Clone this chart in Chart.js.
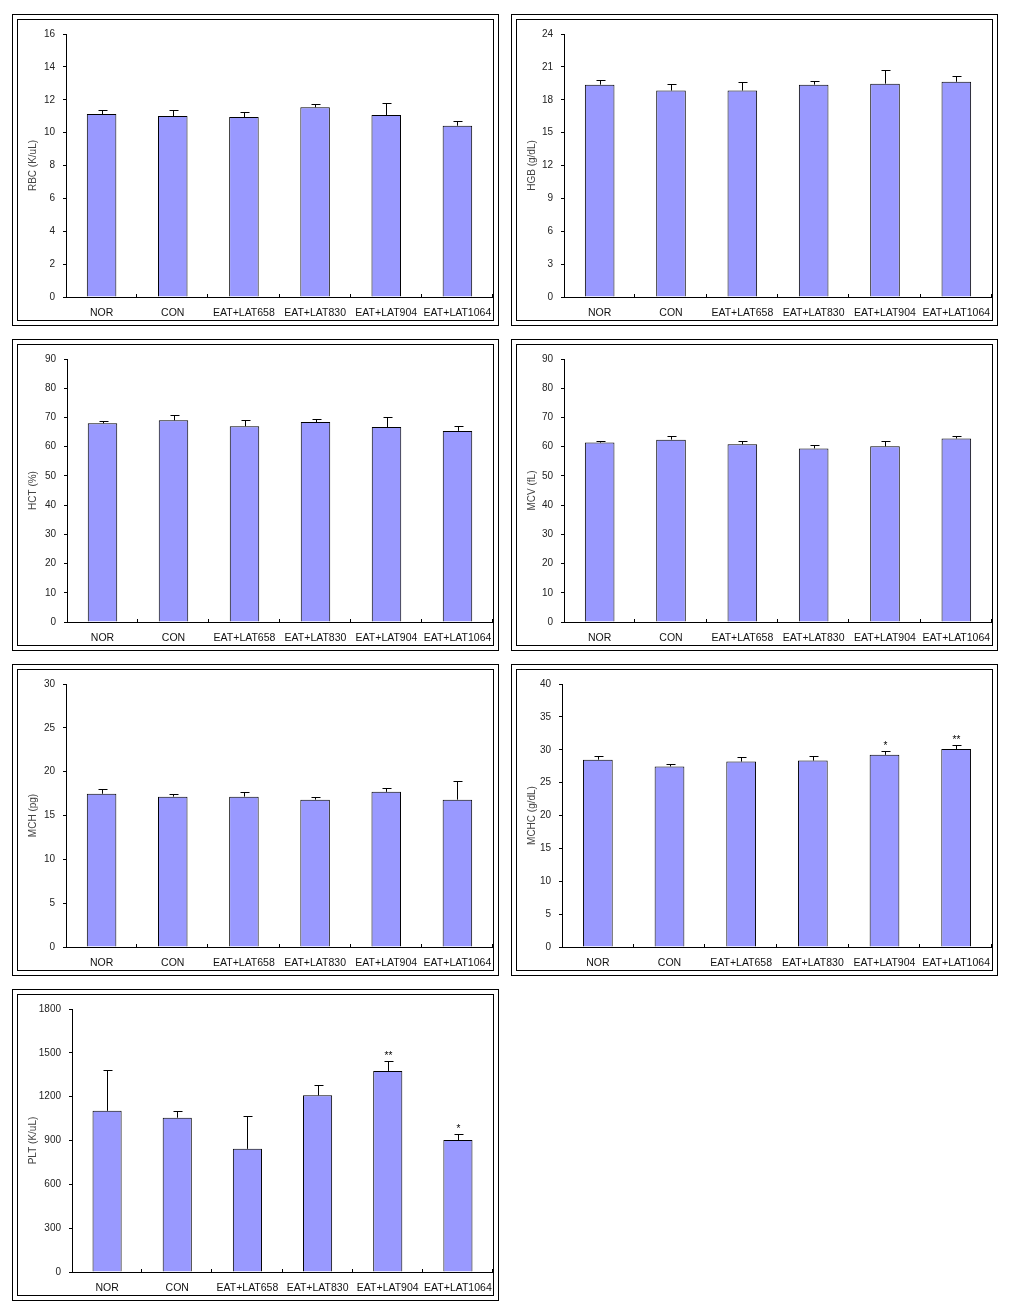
<!DOCTYPE html>
<html>
<head>
<meta charset="utf-8">
<script src="https://cdn.jsdelivr.net/npm/chart.js@4.4.1/dist/chart.umd.min.js"></script>
<style>
  body { margin: 0; background: #fff; width: 1018px; height: 1310px; position: relative; }
  .panel { position: absolute; width: 487px; height: 312px; border: 1px solid #000; box-sizing: border-box; }
  .inner { position: absolute; left: 4px; top: 4px; right: 4px; bottom: 4px; border: 1px solid #000; }
  .inner canvas { position: absolute; left: 0; top: 0; }
</style>
</head>
<body>
<div class="panel" style="left:12px;top:14px"><div class="inner"><canvas id="rbc" width="475" height="300"></canvas></div></div>
<div class="panel" style="left:511px;top:14px"><div class="inner"><canvas id="hgb" width="475" height="300"></canvas></div></div>
<div class="panel" style="left:12px;top:339px"><div class="inner"><canvas id="hct" width="475" height="300"></canvas></div></div>
<div class="panel" style="left:511px;top:339px"><div class="inner"><canvas id="mcv" width="475" height="300"></canvas></div></div>
<div class="panel" style="left:12px;top:664px"><div class="inner"><canvas id="mch" width="475" height="300"></canvas></div></div>
<div class="panel" style="left:511px;top:664px"><div class="inner"><canvas id="mchc" width="475" height="300"></canvas></div></div>
<div class="panel" style="left:12px;top:989px"><div class="inner"><canvas id="plt" width="475" height="300"></canvas></div></div>
<script>
// groups on the x axis
const groups = ['NOR', 'CON', 'EAT+LAT658', 'EAT+LAT830', 'EAT+LAT904', 'EAT+LAT1064'];

// means and error bars
const rbcMean = [11.13, 11.01, 10.95, 11.54, 11.07, 10.42];
const rbcErr = [0.22, 0.34, 0.30, 0.18, 0.71, 0.30];

const hgbMean = [19.38, 18.84, 18.84, 19.38, 19.47, 19.64];
const hgbErr = [0.44, 0.62, 0.80, 0.36, 1.24, 0.53];

const hctMean = [68.0, 69.0, 67.0, 68.4, 66.7, 65.4];
const hctErr = [0.7, 2.0, 2.0, 1.0, 3.3, 1.7];

const mcvMean = [61.4, 62.4, 60.8, 59.4, 60.1, 62.8];
const mcvErr = [0.7, 1.3, 1.0, 1.0, 1.7, 0.7];

const mchMean = [17.48, 17.15, 17.15, 16.81, 17.70, 16.81];
const mchErr = [0.56, 0.33, 0.56, 0.33, 0.44, 2.11];

const mchcMean = [28.49, 27.46, 28.20, 28.35, 29.23, 30.12];
const mchcErr = [0.60, 0.44, 0.64, 0.74, 0.60, 0.60];
const mchcSig = ['', '', '', '', '*', '**'];

const pltMean = [1103, 1056, 843, 1209, 1376, 903];
const pltErr = [280, 47, 226, 73, 67, 40];
const pltSig = ['', '', '', '', '**', '*'];

const FONT = '"Liberation Sans", Arial, sans-serif';

// error bars, significance marks and the short inward x ticks
const extras = {
    id: 'extras',
    afterDatasetsDraw(chart, args, opts) {
        const ctx = chart.ctx;
        const x = chart.scales.x;
        const y = chart.scales.y;
        const meta = chart.getDatasetMeta(0);
        ctx.save();
        ctx.strokeStyle = '#000';
        ctx.lineWidth = 1;
        ctx.fillStyle = '#000';
        ctx.font = '10px ' + FONT;
        ctx.textAlign = 'center';
        ctx.textBaseline = 'alphabetic';
        opts.means.forEach((m, i) => {
            const bar = meta.data[i];
            const cx = Math.round(bar.x) + 0.5;
            const top = Math.round(y.getPixelForValue(m + opts.errs[i])) + 0.5;
            ctx.beginPath();
            ctx.moveTo(cx, bar.y);
            ctx.lineTo(cx, top);
            ctx.moveTo(cx - 4, top);
            ctx.lineTo(cx + 5, top);
            ctx.stroke();
            if (opts.sig && opts.sig[i]) {
                ctx.fillText(opts.sig[i], cx, top - 3);
            }
        });
        // category boundary ticks pointing up into the plot
        const n = opts.means.length;
        const w = (x.right - x.left) / n;
        const base = chart.chartArea.bottom;
        ctx.beginPath();
        for (let k = 1; k <= n; k++) {
            const px = Math.round(x.left + k * w) - 0.5;
            ctx.moveTo(px, base);
            ctx.lineTo(px, base - 3);
        }
        ctx.stroke();
        ctx.restore();
    }
};

function makeChart(id, title, means, errs, max, step, sig, yWidth) {
    new Chart(document.getElementById(id), {
        type: 'bar',
        data: {
            labels: groups,
            datasets: [{
                data: means,
                backgroundColor: '#9999FF',
                borderColor: '#000',
                borderWidth: 1,
                borderSkipped: 'bottom',
                barPercentage: 0.415,
                categoryPercentage: 1
            }]
        },
        options: {
            responsive: false,
            animation: false,
            devicePixelRatio: 1,
            layout: { padding: { top: 7, right: 0, left: 0, bottom: 0 } },
            plugins: {
                legend: { display: false },
                tooltip: { enabled: false },
                extras: { means: means, errs: errs, sig: sig }
            },
            scales: {
                x: {
                    offset: true,
                    grid: { display: false, drawTicks: false, tickLength: 0 },
                    border: { display: true, color: '#000', width: 1 },
                    ticks: {
                        color: '#111',
                        font: { family: FONT, size: 10.5 },
                        padding: 10,
                        maxRotation: 0,
                        autoSkip: false
                    },
                    afterFit: s => { s.height = 23; s.paddingLeft = 0; s.paddingRight = 0; }
                },
                y: {
                    min: 0,
                    max: max,
                    grid: { drawOnChartArea: false, drawTicks: true, tickLength: 3, color: '#000' },
                    border: { display: true, color: '#000', width: 1 },
                    ticks: {
                        stepSize: step,
                        color: '#222',
                        font: { family: FONT, size: 10 },
                        padding: 8,
                        callback: v => String(v)
                    },
                    title: {
                        display: true,
                        text: title,
                        color: '#444',
                        font: { family: FONT, size: 10 },
                        padding: { top: 9, bottom: 0 }
                    },
                    afterFit: s => { s.width = yWidth; }
                }
            }
        },
        plugins: [extras]
    });
}

makeChart('rbc', 'RBC (K/uL)', rbcMean, rbcErr, 16, 2, null, 48);
makeChart('hgb', 'HGB (g/dL)', hgbMean, hgbErr, 24, 3, null, 47);
makeChart('hct', 'HCT (%)', hctMean, hctErr, 90, 10, null, 49);
makeChart('mcv', 'MCV (fL)', mcvMean, mcvErr, 90, 10, null, 47);
makeChart('mch', 'MCH (pg)', mchMean, mchErr, 30, 5, null, 48);
makeChart('mchc', 'MCHC (g/dL)', mchcMean, mchcErr, 40, 5, mchcSig, 45);
makeChart('plt', 'PLT (K/uL)', pltMean, pltErr, 1800, 300, pltSig, 54);
</script>
</body>
</html>
